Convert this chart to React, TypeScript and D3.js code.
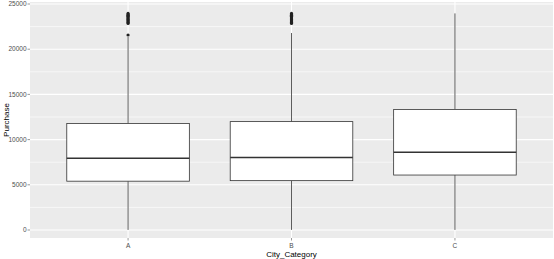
import React from "react";
import * as d3 from "d3";

const categories = ["A", "B", "C"];
const q1 = [5400, 5460, 6080];
const medians = [7930, 8020, 8610];
const q3 = [11780, 11990, 13340];
const whiskerLow = [12, 12, 12];
const whiskerHigh = [21350, 21790, 23961];
const outliersA = [21570, 22850, 22950, 23050, 23150, 23250, 23350, 23450, 23550, 23650, 23750, 23850, 23961];
const outliersB = [22850, 22950, 23050, 23150, 23250, 23350, 23450, 23550, 23650, 23750, 23850, 23961];
const outliersC: number[] = [];
const outliers = [outliersA, outliersB, outliersC];
const yTicks = [0, 5000, 10000, 15000, 20000, 25000];
const yMinor = [2500, 7500, 12500, 17500, 22500];

export default function App() {
  const W = 554, H = 259;
  const left = 30, right = 553, top = 2, bottom = 238;
  const y = d3.scaleLinear().domain([0, 25000]).range([230, 4]);
  const x = d3.scaleBand().domain(categories).range([left, right]).paddingOuter(0.1).paddingInner(0);
  // ggplot discrete expansion: 0.6 unit each side
  const step = (right - left) / 3.2;
  const cx = (i: number) => left + 0.6 * step + i * step;
  const bw = 0.75 * step;
  const tickColor = "#4D4D4D";
  const font = "'Liberation Sans', Arial, sans-serif";
  return (
    <svg width={W} height={H} style={{ position: "absolute", left: 0, top: 0, background: "#fff" }}>
      <rect x={left} y={top} width={right - left} height={bottom - top} fill="#EBEBEB" />
      {yMinor.map((v) => (
        <line key={"mn" + v} x1={left} x2={right} y1={y(v)} y2={y(v)} stroke="#fff" strokeWidth={0.6} />
      ))}
      {yTicks.map((v) => (
        <line key={"mj" + v} x1={left} x2={right} y1={y(v)} y2={y(v)} stroke="#fff" strokeWidth={1.1} />
      ))}
      {categories.map((c, i) => (
        <line key={"vx" + c} x1={cx(i)} x2={cx(i)} y1={top} y2={bottom} stroke="#fff" strokeWidth={1.1} />
      ))}
      {categories.map((c, i) => {
        const xc = cx(i);
        return (
          <g key={"box" + c}>
            <line x1={xc} x2={xc} y1={y(q3[i])} y2={y(whiskerHigh[i])} stroke="#333" strokeWidth={0.8} />
            <line x1={xc} x2={xc} y1={y(q1[i])} y2={y(whiskerLow[i])} stroke="#333" strokeWidth={0.8} />
            <rect x={xc - bw / 2} y={y(q3[i])} width={bw} height={y(q1[i]) - y(q3[i])} fill="#fff" stroke="#333" strokeWidth={0.8} />
            <line x1={xc - bw / 2} x2={xc + bw / 2} y1={y(medians[i])} y2={y(medians[i])} stroke="#333" strokeWidth={1.5} />
            {outliers[i].map((v, k) => (
              <circle key={k} cx={xc} cy={y(v)} r={1.6} fill="#222" />
            ))}
          </g>
        );
      })}
      {yTicks.map((v) => (
        <g key={"yt" + v}>
          <line x1={left - 2.5} x2={left} y1={y(v)} y2={y(v)} stroke="#333" strokeWidth={0.5} />
          <text x={left - 3.5} y={y(v)} dy="0.35em" textAnchor="end" fontSize={6.5} fill={tickColor} fontFamily={font}>
            {v}
          </text>
        </g>
      ))}
      {categories.map((c, i) => (
        <g key={"xt" + c}>
          <line x1={cx(i)} x2={cx(i)} y1={bottom} y2={bottom + 2.5} stroke="#333" strokeWidth={0.5} />
          <text x={cx(i)} y={bottom + 10} textAnchor="middle" fontSize={6.5} fill={tickColor} fontFamily={font}>
            {c}
          </text>
        </g>
      ))}
      <text x={(left + right) / 2} y={257} textAnchor="middle" fontSize={8} fill="#000" fontFamily={font}>
        City_Category
      </text>
      <text transform={`translate(9,${(top + bottom) / 2}) rotate(-90)`} textAnchor="middle" fontSize={8} fill="#000" fontFamily={font}>
        Purchase
      </text>
    </svg>
  );
}
